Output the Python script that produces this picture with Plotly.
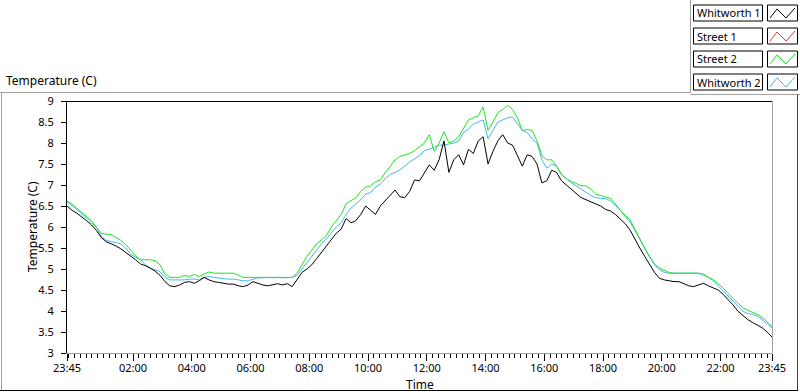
import plotly.graph_objects as go

# ---------------- data ----------------
STEP_MIN = 10  # samples every 10 minutes starting 23:45
SERIES_NAMES = ["Whitworth 1", "Street 1", "Street 2", "Whitworth 2"]
SERIES_COLORS = ["#000000", "#ff3030", "#1ee61e", "#45b4f8"]

whitworth_1 = [
    6.50, 6.40, 6.33, 6.25, 6.15, 6.05, 5.92, 5.75, 5.65, 5.60, 5.55, 5.48,
    5.40, 5.32, 5.22, 5.12, 5.08, 5.02, 4.95, 4.85, 4.70, 4.60, 4.58, 4.62,
    4.68, 4.70, 4.66, 4.72, 4.80, 4.74, 4.70, 4.68, 4.66, 4.64, 4.64, 4.60,
    4.58, 4.62, 4.70, 4.66, 4.62, 4.60, 4.63, 4.65, 4.62, 4.65, 4.58, 4.75,
    4.92, 5.00, 5.10, 5.25, 5.40, 5.55, 5.72, 5.85, 5.95, 6.20, 6.10, 6.15,
    6.30, 6.50, 6.40, 6.30, 6.50, 6.62, 6.75, 6.88, 6.72, 6.70, 6.85, 7.12,
    7.10, 7.30, 7.48, 7.35, 7.60, 8.05, 7.30, 7.60, 7.72, 7.48, 7.85, 7.75,
    8.05, 8.15, 7.50, 7.80, 8.05, 8.20, 8.00, 7.95, 7.70, 7.45, 7.72, 7.68,
    7.50, 7.05, 7.10, 7.35, 7.30, 7.10, 7.00, 6.90, 6.78, 6.70, 6.65, 6.60,
    6.55, 6.50, 6.42, 6.38, 6.30, 6.20, 6.08, 5.93, 5.70, 5.50, 5.30, 5.10,
    4.92, 4.78, 4.74, 4.72, 4.70, 4.70, 4.65, 4.60, 4.58, 4.62, 4.66, 4.60,
    4.55, 4.50, 4.40, 4.28, 4.15, 4.00, 3.90, 3.80, 3.73, 3.66, 3.60, 3.50,
    3.38,
]

street_1 = []  # not visible in the chart

street_2 = [
    6.62, 6.55, 6.45, 6.35, 6.25, 6.15, 6.00, 5.85, 5.83, 5.82, 5.75, 5.68,
    5.58, 5.45, 5.32, 5.22, 5.22, 5.22, 5.20, 5.10, 4.88, 4.80, 4.80, 4.80,
    4.85, 4.82, 4.87, 4.82, 4.88, 4.93, 4.90, 4.90, 4.90, 4.90, 4.90, 4.85,
    4.80, 4.80, 4.80, 4.80, 4.80, 4.80, 4.80, 4.80, 4.80, 4.80, 4.80, 4.90,
    5.10, 5.30, 5.45, 5.60, 5.70, 5.80, 6.00, 6.15, 6.30, 6.55, 6.62, 6.70,
    6.85, 6.95, 6.98, 7.08, 7.12, 7.30, 7.44, 7.60, 7.68, 7.72, 7.75, 7.82,
    7.90, 8.00, 8.20, 7.80, 8.00, 8.27, 8.00, 8.05, 8.15, 8.35, 8.55, 8.60,
    8.65, 8.86, 8.30, 8.50, 8.72, 8.80, 8.90, 8.80, 8.60, 8.30, 8.32, 8.30,
    8.05, 7.70, 7.60, 7.60, 7.45, 7.25, 7.15, 7.08, 7.04, 6.98, 6.98, 6.90,
    6.78, 6.75, 6.72, 6.68, 6.55, 6.40, 6.28, 6.17, 5.95, 5.72, 5.50, 5.30,
    5.12, 5.02, 4.97, 4.92, 4.90, 4.90, 4.90, 4.90, 4.90, 4.90, 4.88, 4.80,
    4.75, 4.65, 4.55, 4.42, 4.30, 4.20, 4.08, 4.02, 3.97, 3.92, 3.85, 3.75,
    3.63,
]

whitworth_2 = [
    6.60, 6.52, 6.42, 6.32, 6.20, 6.10, 6.00, 5.78, 5.68, 5.65, 5.62, 5.60,
    5.50, 5.35, 5.28, 5.22, 5.10, 5.02, 4.98, 4.94, 4.80, 4.74, 4.74, 4.74,
    4.74, 4.76, 4.76, 4.74, 4.80, 4.82, 4.80, 4.78, 4.77, 4.76, 4.76, 4.74,
    4.72, 4.72, 4.76, 4.79, 4.79, 4.80, 4.79, 4.80, 4.79, 4.80, 4.80, 4.85,
    5.00, 5.15, 5.30, 5.45, 5.60, 5.72, 5.85, 6.00, 6.10, 6.30, 6.45, 6.55,
    6.65, 6.78, 6.82, 6.95, 7.02, 7.15, 7.25, 7.30, 7.36, 7.45, 7.55, 7.62,
    7.70, 7.82, 7.85, 7.90, 7.95, 7.95, 7.98, 8.00, 8.05, 8.25, 8.33, 8.45,
    8.50, 8.55, 8.10, 8.30, 8.50, 8.55, 8.60, 8.62, 8.45, 8.30, 8.25, 8.10,
    8.00, 7.60, 7.40, 7.50, 7.45, 7.25, 7.15, 7.05, 6.98, 6.90, 6.82, 6.75,
    6.70, 6.68, 6.68, 6.62, 6.52, 6.40, 6.25, 6.12, 5.92, 5.70, 5.48, 5.28,
    5.10, 4.98, 4.92, 4.90, 4.90, 4.90, 4.90, 4.90, 4.90, 4.90, 4.85, 4.80,
    4.72, 4.60, 4.48, 4.38, 4.24, 4.12, 4.00, 3.94, 3.92, 3.88, 3.80, 3.70,
    3.60,
]

X_TICK_HOURS = [0, 2.25, 4.25, 6.25, 8.25, 10.25, 12.25, 14.25, 16.25, 18.25, 20.25, 22.25, 24]
X_TICK_TEXT = ["23:45", "02:00", "04:00", "06:00", "08:00", "10:00", "12:00",
               "14:00", "16:00", "18:00", "20:00", "22:00", "23:45"]

# ---------------- layout geometry ----------------
W, H = 800, 392
L, R, T, B = 67, 28, 101, 39
PW, PH = W - L - R, H - T - B
FONT = "Noto Sans"


def px(xp):
    return (xp - L) / PW


def py(yp):
    return (H - B - yp) / PH


def hours(values):
    return [i * STEP_MIN / 60 for i in range(len(values))]


fig = go.Figure()
series = {"Whitworth 1": whitworth_1, "Street 1": street_1,
          "Street 2": street_2, "Whitworth 2": whitworth_2}
draw_order = ["Street 1", "Whitworth 2", "Street 2", "Whitworth 1"]
for name in draw_order:
    vals = series[name]
    color = SERIES_COLORS[SERIES_NAMES.index(name)]
    fig.add_trace(go.Scatter(x=hours(vals), y=vals, mode="lines", name=name,
                             line=dict(color=color, width=1), showlegend=False))

shapes = []
gray = "#a0a0a0"


def seg(x0, y0, x1, y1, color, w=1):
    shapes.append(dict(type="line", xref="paper", yref="paper",
                       x0=px(x0), y0=py(y0), x1=px(x1), y1=py(y1),
                       line=dict(color=color, width=w)))


seg(67, 101.5, 772.5, 101.5, "#000000")     # plot top
seg(772.5, 101, 772.5, 353, gray)           # plot right
seg(0, 92.5, 690.5, 92.5, gray)             # outer top
seg(1.5, 92, 1.5, 391, gray)                # outer left
seg(690.5, 0, 690.5, 92.5, gray)            # legend panel left
seg(690.5, 94.5, 800, 94.5, gray)           # legend panel bottom
seg(797.5, 94.5, 797.5, 391, "#404040")     # outer right
seg(0, 390.5, 798, 390.5, "#000000")        # outer bottom

annotations = []
row_top = [5, 28, 51, 74]
for k, name in enumerate(SERIES_NAMES):
    t = row_top[k]
    shapes.append(dict(type="rect", xref="paper", yref="paper",
                       x0=px(693.5), x1=px(762.5), y0=py(t), y1=py(t + 16),
                       line=dict(color="#000000", width=1), fillcolor="white"))
    shapes.append(dict(type="rect", xref="paper", yref="paper",
                       x0=px(767.5), x1=px(797.5), y0=py(t), y1=py(t + 16),
                       line=dict(color="#000000", width=1), fillcolor="white"))
    pts = [(770, t + 13), (777, t + 4), (786, t + 13), (795, t + 3)]
    path = "M " + " L ".join(f"{px(a)},{py(b)}" for a, b in pts)
    shapes.append(dict(type="path", xref="paper", yref="paper", path=path,
                       line=dict(color=SERIES_COLORS[k], width=1)))
    annotations.append(dict(text=name, xref="paper", yref="paper",
                            x=px(695), y=py(t + 8), xanchor="left", yanchor="middle",
                            showarrow=False, font=dict(family=FONT, size=11, color="#000000")))

annotations.append(dict(text="Temperature (C)", xref="paper", yref="paper",
                        x=px(4), y=py(80), xanchor="left", yanchor="middle",
                        showarrow=False, font=dict(family=FONT, size=12, color="#000000")))
annotations.append(dict(text="Time", xref="paper", yref="paper",
                        x=0.5, y=py(384.5), xanchor="center", yanchor="middle",
                        showarrow=False, font=dict(family=FONT, size=12, color="#000000")))
annotations.append(dict(text="Temperature (C)", xref="paper", yref="paper",
                        x=px(32), y=0.5, xanchor="center", yanchor="middle", textangle=-90,
                        showarrow=False, font=dict(family=FONT, size=12, color="#000000")))

fig.update_layout(
    width=W, height=H,
    margin=dict(l=L, r=R, t=T, b=B, pad=0, autoexpand=False),
    paper_bgcolor="white", plot_bgcolor="white",
    font=dict(family=FONT, size=11, color="#000000"),
    shapes=shapes, annotations=annotations,
    xaxis=dict(range=[0, 24], tickmode="array", tickvals=X_TICK_HOURS, ticktext=X_TICK_TEXT,
               ticks="outside", ticklen=7, tickcolor="#000000", showgrid=False, zeroline=False,
               showline=True, linecolor=gray, linewidth=1, ticklabelstandoff=-2,
               automargin=False,
               minor=dict(tickmode="linear", tick0=0.25, dtick=0.2, ticks="outside",
                          ticklen=4, tickcolor="#000000", showgrid=False),
               tickfont=dict(family=FONT, size=11)),
    yaxis=dict(range=[3, 9], dtick=0.5, tick0=3, ticks="outside", ticklen=5,
               tickcolor="#000000", showgrid=False, zeroline=False,
               showline=True, linecolor="#000000", linewidth=1, ticklabelstandoff=5,
               automargin=False,
               tickfont=dict(family=FONT, size=11)),
)

fig.write_html("out.html", config={"displayModeBar": False},
               post_script="document.body.style.margin='0';document.body.style.padding='0';")
